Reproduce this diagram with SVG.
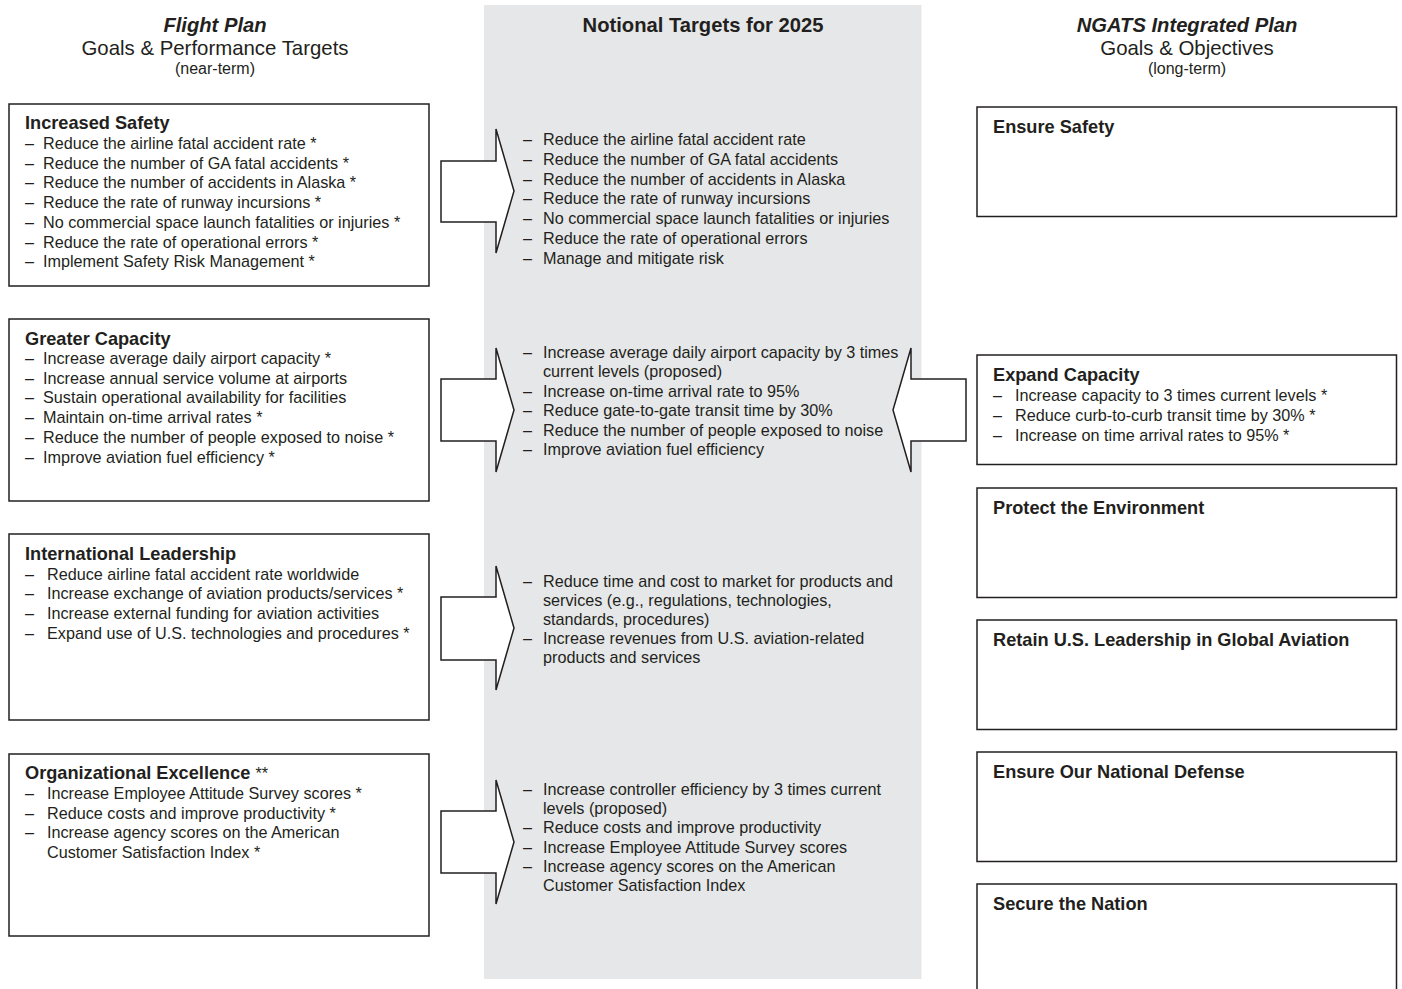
<svg xmlns="http://www.w3.org/2000/svg" width="1402" height="989" viewBox="0 0 1402 989">
<style>
text{font-family:"Liberation Sans",Arial,Helvetica,sans-serif;fill:#231f20}
.h{font-size:20.4px;text-anchor:middle}
.hb{font-size:20.2px;font-weight:bold;font-style:italic;text-anchor:middle}
.hs{font-size:16px;text-anchor:middle}
.t{font-size:18.2px;font-weight:bold}
.i{font-size:16.2px}
.box{fill:#fff;stroke:#231f20;stroke-width:1.5}
.arr{fill:#fff;stroke:#231f20;stroke-width:1.5;stroke-linejoin:miter}
</style>
<rect width="1402" height="989" fill="#fff"/>
<g id="panel">
<rect x="484" y="5" width="437.5" height="974" fill="#e6e7e8"/>
<text x="703" y="32" style="font-size:20.2px;font-weight:bold;text-anchor:middle">Notional Targets for 2025</text>
</g>
<g id="header-left">
<text class="hb" x="215" y="31.5">Flight Plan</text>
<text class="h" x="215" y="55">Goals &amp; Performance Targets</text>
<text class="hs" x="215" y="74">(near-term)</text>
</g>
<g id="header-right">
<text class="hb" x="1187" y="31.5">NGATS Integrated Plan</text>
<text class="h" x="1187" y="55">Goals &amp; Objectives</text>
<text class="hs" x="1187" y="74">(long-term)</text>
</g>

<g id="fp-safety">
<rect class="box" x="9" y="104" width="420" height="182"/>
<text class="t" x="25" y="129">Increased Safety</text>
<text class="i" x="25" y="149">–</text><text class="i" x="43" y="149">Reduce the airline fatal accident rate *</text>
<text class="i" x="25" y="168.7">–</text><text class="i" x="43" y="168.7">Reduce the number of GA fatal accidents *</text>
<text class="i" x="25" y="188.4">–</text><text class="i" x="43" y="188.4">Reduce the number of accidents in Alaska *</text>
<text class="i" x="25" y="208.1">–</text><text class="i" x="43" y="208.1">Reduce the rate of runway incursions *</text>
<text class="i" x="25" y="227.8">–</text><text class="i" x="43" y="227.8">No commercial space launch fatalities or injuries *</text>
<text class="i" x="25" y="247.5">–</text><text class="i" x="43" y="247.5">Reduce the rate of operational errors *</text>
<text class="i" x="25" y="267.2">–</text><text class="i" x="43" y="267.2">Implement Safety Risk Management *</text>
</g>

<g id="fp-capacity">
<rect class="box" x="9" y="319" width="420" height="182"/>
<text class="t" x="25" y="344.5">Greater Capacity</text>
<text class="i" x="25" y="364">–</text><text class="i" x="43" y="364">Increase average daily airport capacity *</text>
<text class="i" x="25" y="383.7">–</text><text class="i" x="43" y="383.7">Increase annual service volume at airports</text>
<text class="i" x="25" y="403.4">–</text><text class="i" x="43" y="403.4">Sustain operational availability for facilities</text>
<text class="i" x="25" y="423.1">–</text><text class="i" x="43" y="423.1">Maintain on-time arrival rates *</text>
<text class="i" x="25" y="442.8">–</text><text class="i" x="43" y="442.8">Reduce the number of people exposed to noise *</text>
<text class="i" x="25" y="462.5">–</text><text class="i" x="43" y="462.5">Improve aviation fuel efficiency *</text>
</g>

<g id="fp-international">
<rect class="box" x="9" y="534" width="420" height="186"/>
<text class="t" x="25" y="559.5">International Leadership</text>
<text class="i" x="25" y="579.5">–</text><text class="i" x="47" y="579.5">Reduce airline fatal accident rate worldwide</text>
<text class="i" x="25" y="599.2">–</text><text class="i" x="47" y="599.2">Increase exchange of aviation products/services *</text>
<text class="i" x="25" y="618.9">–</text><text class="i" x="47" y="618.9">Increase external funding for aviation activities</text>
<text class="i" x="25" y="638.6">–</text><text class="i" x="47" y="638.6">Expand use of U.S. technologies and procedures *</text>
</g>

<g id="fp-organizational">
<rect class="box" x="9" y="754" width="420" height="182"/>
<text x="25" y="778.5"><tspan class="t">Organizational Excellence </tspan><tspan class="i">**</tspan></text>
<text class="i" x="25" y="799">–</text><text class="i" x="47" y="799">Increase Employee Attitude Survey scores *</text>
<text class="i" x="25" y="818.7">–</text><text class="i" x="47" y="818.7">Reduce costs and improve productivity *</text>
<text class="i" x="25" y="838.4">–</text><text class="i" x="47" y="838.4">Increase agency scores on the American</text>
<text class="i" x="47" y="858.1">Customer Satisfaction Index *</text>
</g>

<g id="nt-safety">
<text class="i" x="523" y="145">–</text><text class="i" x="543" y="145">Reduce the airline fatal accident rate</text>
<text class="i" x="523" y="164.8">–</text><text class="i" x="543" y="164.8">Reduce the number of GA fatal accidents</text>
<text class="i" x="523" y="184.6">–</text><text class="i" x="543" y="184.6">Reduce the number of accidents in Alaska</text>
<text class="i" x="523" y="204.4">–</text><text class="i" x="543" y="204.4">Reduce the rate of runway incursions</text>
<text class="i" x="523" y="224.2">–</text><text class="i" x="543" y="224.2">No commercial space launch fatalities or injuries</text>
<text class="i" x="523" y="244">–</text><text class="i" x="543" y="244">Reduce the rate of operational errors</text>
<text class="i" x="523" y="263.8">–</text><text class="i" x="543" y="263.8">Manage and mitigate risk</text>
</g>

<g id="nt-capacity">
<text class="i" x="523" y="357.5">–</text><text class="i" x="543" y="357.5">Increase average daily airport capacity by 3 times</text>
<text class="i" x="543" y="377">current levels (proposed)</text>
<text class="i" x="523" y="396.5">–</text><text class="i" x="543" y="396.5">Increase on-time arrival rate to 95%</text>
<text class="i" x="523" y="416">–</text><text class="i" x="543" y="416">Reduce gate-to-gate transit time by 30%</text>
<text class="i" x="523" y="435.5">–</text><text class="i" x="543" y="435.5">Reduce the number of people exposed to noise</text>
<text class="i" x="523" y="455">–</text><text class="i" x="543" y="455">Improve aviation fuel efficiency</text>
</g>

<g id="nt-international">
<text class="i" x="523" y="586.5">–</text><text class="i" x="543" y="586.5">Reduce time and cost to market for products and</text>
<text class="i" x="543" y="605.5">services (e.g., regulations, technologies,</text>
<text class="i" x="543" y="624.5">standards, procedures)</text>
<text class="i" x="523" y="644">–</text><text class="i" x="543" y="644">Increase revenues from U.S. aviation-related</text>
<text class="i" x="543" y="663">products and services</text>
</g>

<g id="nt-organizational">
<text class="i" x="523" y="794.5">–</text><text class="i" x="543" y="794.5">Increase controller efficiency by 3 times current</text>
<text class="i" x="543" y="813.5">levels (proposed)</text>
<text class="i" x="523" y="833">–</text><text class="i" x="543" y="833">Reduce costs and improve productivity</text>
<text class="i" x="523" y="852.5">–</text><text class="i" x="543" y="852.5">Increase Employee Attitude Survey scores</text>
<text class="i" x="523" y="872">–</text><text class="i" x="543" y="872">Increase agency scores on the American</text>
<text class="i" x="543" y="891">Customer Satisfaction Index</text>
</g>

<g id="ng-safety">
<rect class="box" x="977" y="107" width="419.5" height="109.5"/>
<text class="t" x="993" y="133">Ensure Safety</text>
</g>
<g id="ng-capacity">
<rect class="box" x="977" y="355" width="419.5" height="109.5"/>
<text class="t" x="993" y="380.5">Expand Capacity</text>
<text class="i" x="993" y="401">–</text><text class="i" x="1015" y="401">Increase capacity to 3 times current levels *</text>
<text class="i" x="993" y="420.7">–</text><text class="i" x="1015" y="420.7">Reduce curb-to-curb transit time by 30% *</text>
<text class="i" x="993" y="440.6">–</text><text class="i" x="1015" y="440.6">Increase on time arrival rates to 95% *</text>
</g>
<g id="ng-environment">
<rect class="box" x="977" y="488" width="419.5" height="109.5"/>
<text class="t" x="993" y="513.5">Protect the Environment</text>
</g>
<g id="ng-leadership">
<rect class="box" x="977" y="620" width="419.5" height="109.5"/>
<text class="t" x="993" y="645.5">Retain U.S. Leadership in Global Aviation</text>
</g>
<g id="ng-defense">
<rect class="box" x="977" y="752" width="419.5" height="109.5"/>
<text class="t" x="993" y="777.5">Ensure Our National Defense</text>
</g>
<g id="ng-secure">
<rect class="box" x="977" y="884" width="419.5" height="120"/>
<text class="t" x="993" y="910">Secure the Nation</text>
</g>

<g id="connectors">
<polygon class="arr" points="441,161 496,161 496,129 514,191 496,253 496,222 441,222"/>
<polygon class="arr" points="441,379 496,379 496,348 514,410 496,472 496,441 441,441"/>
<polygon class="arr" points="441,597 496,597 496,566 514,628 496,690 496,660 441,660"/>
<polygon class="arr" points="441,811 496,811 496,780 514,842 496,904 496,873 441,873"/>
<polygon class="arr" points="966,379 911,379 911,348 893,410 911,472 911,441 966,441"/>
</g>
</svg>
